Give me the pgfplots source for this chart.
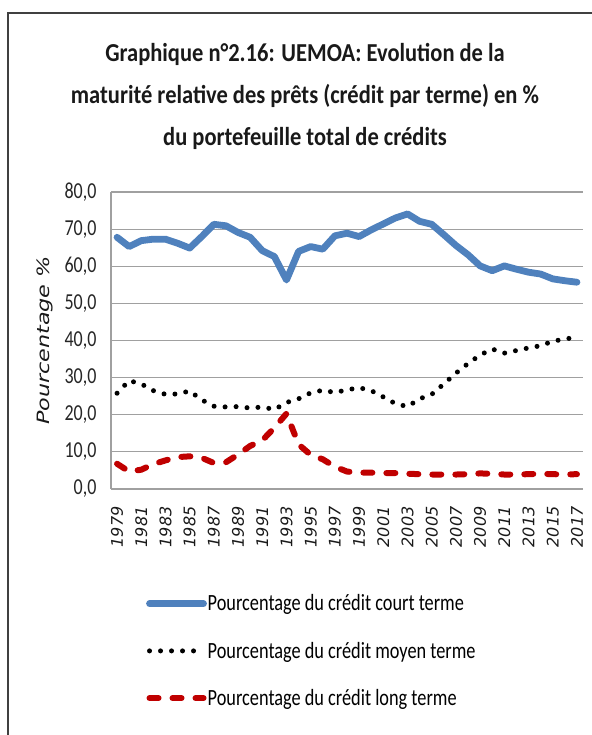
\documentclass[border=0pt]{standalone}
\usepackage{fontspec}
\setmainfont{Carlito}
\newfontfamily\dvo{DejaVu Sans}[ItalicFont=* Oblique]
\usepackage{graphicx}
\usepackage{pgfplots}
\usepackage{pgfplotstable}
\pgfplotsset{compat=1.18}
\definecolor{cblue}{HTML}{4F81BD}
\definecolor{cred}{HTML}{C00000}
\definecolor{gridgray}{HTML}{A0A0A0}
\newcommand{\vs}[1]{\scalebox{1}[1.27]{#1}}

\pgfplotstableread{
i court moyen long
0 67.8 25.8 6.8
1 65.3 29.2 4.7
2 66.9 28.3 5.2
3 67.3 26.5 6.7
4 67.3 25.5 7.7
5 66.2 25.6 8.6
6 64.9 26.4 8.8
7 68.0 24.0 8.4
8 71.3 22.3 7.0
9 70.9 22.1 7.2
10 69.1 22.2 9.3
11 67.8 21.8 11.6
12 64.2 22.1 13.1
13 62.6 21.4 16.5
14 56.3 23.3 20.3
15 64.0 24.3 12.0
16 65.3 25.9 9.2
17 64.6 26.6 8.0
18 68.2 26.0 6.0
19 68.9 26.7 4.7
20 68.0 27.3 4.4
21 69.8 26.5 4.4
22 71.4 24.8 4.3
23 73.0 23.0 4.3
24 74.1 22.2 4.1
25 72.1 24.3 4.0
26 71.3 25.5 3.9
27 68.5 28.3 3.9
28 65.6 31.2 3.9
29 63.1 33.8 4.0
30 60.1 36.1 4.2
31 58.8 37.7 4.1
32 60.1 36.6 3.9
33 59.2 37.3 3.9
34 58.4 38.0 4.0
35 57.9 38.6 4.1
36 56.6 39.8 4.0
37 56.1 40.4 3.9
38 55.7 40.9 4.0
}\datatable

\begin{document}
\begin{tikzpicture}
\useasboundingbox (0pt,0pt) rectangle (591pt,-735pt);
\draw[line width=2pt, black!75] (8pt,-740pt) -- (8pt,-13pt) -- (600pt,-13pt);
\node[font=\bfseries\fontsize{22.5}{42}\selectfont, align=center, anchor=center, text=black!90] at (305pt,-96pt)
  {\scalebox{1}[1.15]{Graphique n°2.16: UEMOA: Evolution de la}\\
   \scalebox{1}[1.15]{maturité relative des prêts (crédit par terme) en \%}\\
   \scalebox{1}[1.15]{du portefeuille total de crédits}};
\begin{axis}[
  at={(111pt,-489pt)}, anchor=south west,
  scale only axis, width=472pt, height=297pt,
  xmin=-0.5, xmax=38.5, ymin=0, ymax=80,
  ytick={0,10,...,80},
  xtick={0,2,...,38},
  xticklabels={1979,1981,1983,1985,1987,1989,1991,1993,1995,1997,1999,2001,2003,2005,2007,2009,2011,2013,2015,2017},
  axis lines*=left,
  axis line style={gridgray, line width=1.2pt},
  ymajorgrids, major grid style={gridgray, line width=1.2pt},
  major tick length=0pt,
  /pgf/number format/.cd, fixed, fixed zerofill, precision=1, use comma, assume math mode=true,
  /pgfplots/.cd,
  yticklabel={\vs{\pgfmathprintnumber{\tick}}},
  yticklabel style={font=\fontsize{18}{18}\selectfont, text=black!85},
  yticklabel shift=11pt,
  xticklabel style={font=\dvo\itshape\fontsize{16}{16}\selectfont, rotate=90, anchor=east, text=black!90},
  xticklabel shift=14pt,
  ylabel={\scalebox{1.31}[1]{Pourcentage \%}},
  ylabel style={font=\dvo\itshape\fontsize{17}{17}\selectfont, at={(axis description cs:-0.14,0.5)}, anchor=center, text=black!90},
  clip=false,
  legend style={at={(axis description cs:0.074,-0.353)}, anchor=north west, draw=none, fill=none,
    font=\fontsize{18.3}{18.3}\selectfont, row sep=28pt, cells={anchor=west}, nodes={inner sep=0.8pt}, inner sep=0pt},
  legend image code/.code={\draw[#1] (0pt,0pt) -- (54pt,0pt);},
]
\addplot[cblue, line width=6.8pt, line join=round, line cap=round] table[x=i, y=court] {\datatable};
\addlegendentry{\vs{Pourcentage du crédit court terme}}
\addplot[black, line width=5pt, dash pattern=on 0pt off 11pt, line cap=round] table[x=i, y=moyen] {\datatable};
\addlegendentry{\vs{Pourcentage du crédit moyen terme}}
\addplot[cred, line width=6pt, dash pattern=on 9pt off 14pt, line cap=round, line join=round] table[x=i, y=long] {\datatable};
\addlegendentry{\vs{Pourcentage du crédit long terme}}
\end{axis}
\end{tikzpicture}
\end{document}
